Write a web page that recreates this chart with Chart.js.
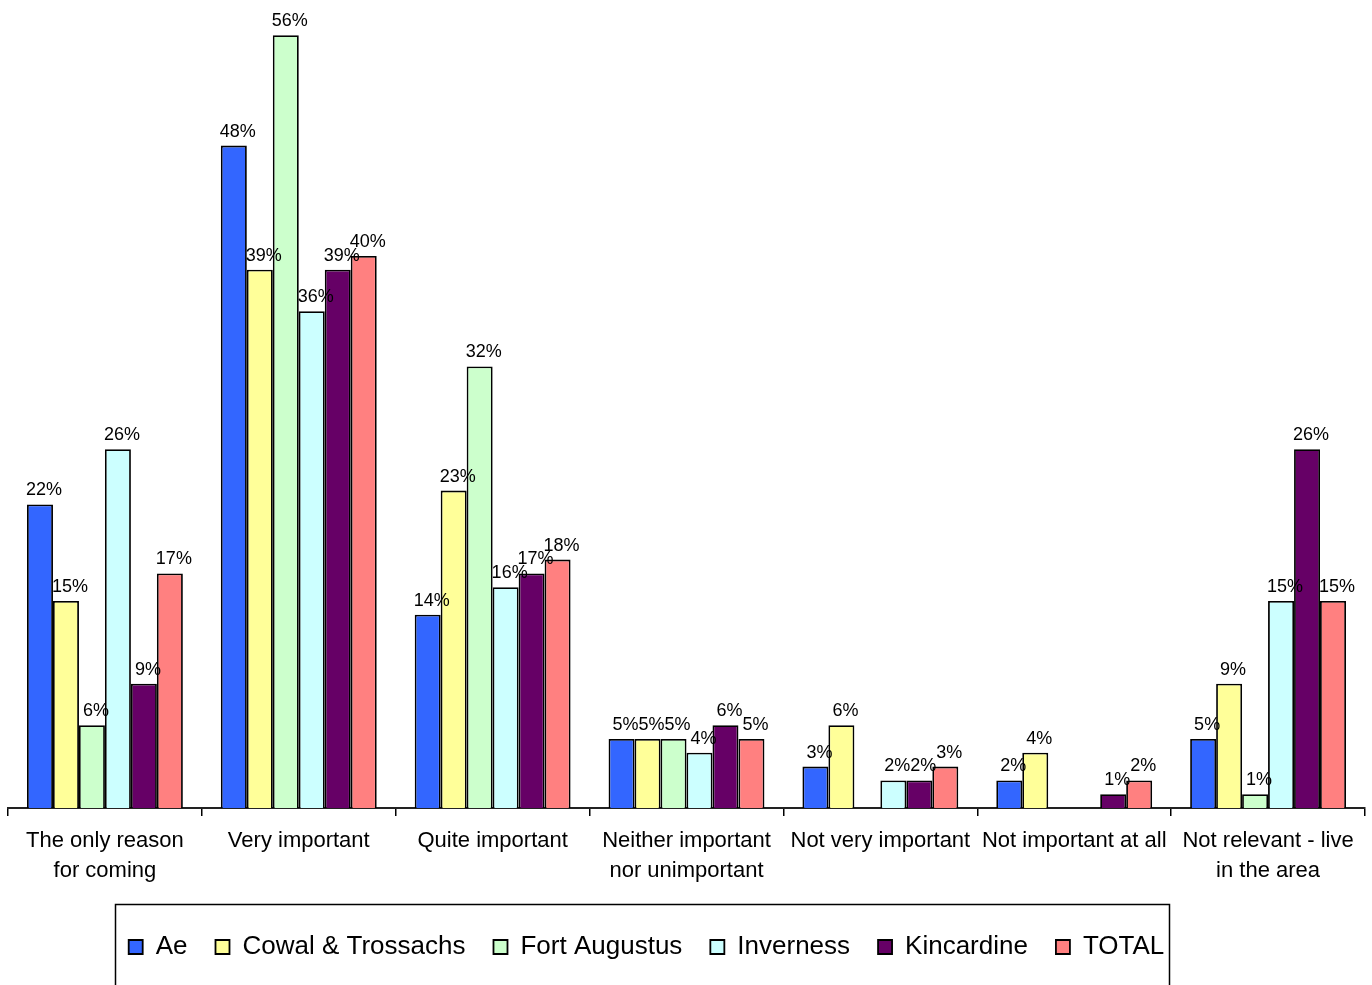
<!DOCTYPE html>
<html>
<head>
<meta charset="utf-8">
<script src="https://cdn.jsdelivr.net/npm/chart.js@4.4.1/dist/chart.umd.min.js"></script>
<style>
    html, body { margin: 0; padding: 0; background: #fff; }
    #wrap { width: 1372px; height: 985px; }
</style>
</head>
<body>
<div id="wrap"><canvas id="importanceChart" width="1372" height="985"></canvas></div>
<script>
const categories = [
    ["The only reason", "for coming"],
    ["Very important"],
    ["Quite important"],
    ["Neither important", "nor unimportant"],
    ["Not very important"],
    ["Not important at all"],
    ["Not relevant - live", "in the area"]
];

// percentages per site (null = no response in that band)
const ae = [22, 48, 14, 5, 3, 2, 5];
const cowal = [15, 39, 23, 5, 6, 4, 9];
const fortAugustus = [6, 56, 32, 5, null, null, 1];
const inverness = [26, 36, 16, 4, 2, null, 15];
const kincardine = [9, 39, 17, 6, 2, 1, 26];
const total = [17, 40, 18, 5, 3, 2, 15];

const seriesNames = ["Ae", "Cowal & Trossachs", "Fort Augustus", "Inverness", "Kincardine", "TOTAL"];
const seriesColors = ["#3366ff", "#ffff99", "#ccffcc", "#ccffff", "#660066", "#ff8080"];
const seriesValues = [ae, cowal, fortAugustus, inverness, kincardine, total];

const FONT = "'Liberation Sans', Arial, sans-serif";
Chart.defaults.font.family = FONT;
Chart.defaults.color = "#000";

// percentage text above each bar
const barValueLabels = {
    id: "barValueLabels",
    afterDatasetsDraw(chart) {
        const ctx = chart.ctx;
        ctx.save();
        ctx.font = "18px " + FONT;
        ctx.fillStyle = "#000";
        ctx.textAlign = "center";
        ctx.textBaseline = "alphabetic";
        chart.data.datasets.forEach((ds, i) => {
            chart.getDatasetMeta(i).data.forEach((bar, j) => {
                const v = ds.data[j];
                if (v == null) return;
                ctx.fillText(v + "%", bar.x + 4, bar.y - 9);
            });
        });
        ctx.restore();
    }
};

// legend sits a little left of centre, inside a frame open at the bottom
const legendFrame = {
    id: "legendFrame",
    afterLayout(chart) {
        chart.legend.left -= 40;
        chart.legend.right -= 40;
    },
    afterDraw(chart) {
        const boxes = chart.legend.legendHitBoxes;
        if (!boxes || !boxes.length) return;
        const first = boxes[0];
        const last = boxes[boxes.length - 1];
        const left = Math.round(first.left - 14) + 0.5;
        const right = Math.round(last.left + last.width + 5) + 0.5;
        const top = Math.round(first.top - 30) + 0.5;
        const ctx = chart.ctx;
        ctx.save();
        ctx.strokeStyle = "#000";
        ctx.lineWidth = 1.5;
        ctx.beginPath();
        ctx.moveTo(left, chart.height + 5);
        ctx.lineTo(left, top);
        ctx.lineTo(right, top);
        ctx.lineTo(right, chart.height + 5);
        ctx.stroke();
        ctx.restore();
    }
};

const ctx = document.getElementById("importanceChart").getContext("2d");

new Chart(ctx, {
    type: "bar",
    data: {
        labels: categories,
        datasets: seriesNames.map((name, i) => ({
            label: name,
            data: seriesValues[i],
            backgroundColor: seriesColors[i],
            borderColor: "#000",
            borderWidth: 1.8,
            categoryPercentage: 0.804,
            barPercentage: 1
        }))
    },
    options: {
        responsive: false,
        animation: false,
        layout: { padding: { left: 8, right: 7, top: 0, bottom: 15 } },
        scales: {
            x: {
                grid: {
                    display: true,
                    drawOnChartArea: false,
                    drawTicks: true,
                    tickLength: 8,
                    color: "#000",
                    lineWidth: 1.5,
                    offset: true
                },
                border: { display: true, color: "#222", width: 2 },
                ticks: {
                    color: "#000",
                    font: { size: 22, lineHeight: 1.36 },
                    padding: 10,
                    maxRotation: 0,
                    autoSkip: false
                },
                afterFit: s => { s.height = 98; }
            },
            y: { display: false, min: 0, max: 58.55 }
        },
        plugins: {
            legend: {
                position: "bottom",
                labels: {
                    color: "#000",
                    font: { size: 26 },
                    boxWidth: 14,
                    boxHeight: 14,
                    padding: 28
                }
            },
            tooltip: { enabled: false }
        }
    },
    plugins: [barValueLabels, legendFrame]
});
</script>
</body>
</html>
